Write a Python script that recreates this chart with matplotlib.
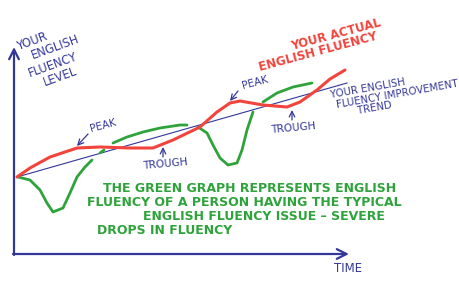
import matplotlib
matplotlib.use("Agg")
import matplotlib.pyplot as plt

# цвета "маркеров"
BLUE = "#34379a"
RED = "#f2443c"
GREEN = "#2fa33b"

# данные в условных единицах: время (t) и уровень владения (f)
red_t = [3, 16, 36, 63, 86, 116, 139, 159, 186, 203, 216, 226, 249, 273, 286, 303, 316, 331]
red_f = [77, 86, 97, 106, 107, 106, 106, 114, 127, 142, 151, 153, 149, 147, 152, 164, 175, 184]

trend_t = [3, 333]
trend_f = [77, 171]

# зеленый график - несколько отдельных штрихов
green_segments = [
    ([4, 16, 26, 33, 39, 49, 56, 63, 71, 78],
     [77, 74, 64, 51, 42, 46, 61, 77, 87, 94]),
    ([86, 90], [101, 104]),
    ([99, 113, 129, 146, 166, 173],
     [111, 117, 122, 126, 129, 129]),
    ([184, 193, 199, 206, 214, 223, 228, 233, 239],
     [127, 121, 109, 96, 89, 91, 104, 124, 142]),
    ([249, 263, 279, 298],
     [152, 161, 167, 171]),
]

y_label = ["YOUR", "ENGLISH", "FLUENCY", "LEVEL"]
red_label = ["YOUR ACTUAL", "ENGLISH FLUENCY"]
trend_label = ["YOUR ENGLISH", "FLUENCY IMPROVEMENT", "TREND"]
green_note = [
    "THE GREEN GRAPH REPRESENTS ENGLISH",
    "FLUENCY OF A PERSON HAVING THE TYPICAL",
    "ENGLISH FLUENCY ISSUE \u2013 SEVERE",
    "DROPS IN FLUENCY",
]

plt.rcParams['font.family'] = ['DejaVu Sans']

fig = plt.figure(figsize=(4.6, 2.85), dpi=100)
ax = fig.add_axes([0, 0, 1, 1])
ax.set_xlim(-14, 446)
ax.set_ylim(-31, 254)
ax.axis('off')


def px(x, y):
    # перевод пиксельных координат картинки в единицы графика
    return x - 14, 254 - y


# оси со стрелками
arrow = dict(arrowstyle='->,head_length=0.7,head_width=0.35', color=BLUE, lw=1.6,
             shrinkA=0, shrinkB=0)
ax.annotate('', xy=(0, 207), xytext=(0, -1), arrowprops=arrow)
ax.annotate('', xy=(335, 0), xytext=(-1, 0), arrowprops=arrow)

# линии
ax.plot(trend_t, trend_f, color=BLUE, lw=0.8)
for seg_t, seg_f in green_segments:
    ax.plot(seg_t, seg_f, color=GREEN, lw=2.0, solid_capstyle='round', solid_joinstyle='round')
ax.plot(red_t, red_f, color=RED, lw=2.2, solid_capstyle='round', solid_joinstyle='round')

# подписи оси Y
for txt, (x, y) in zip(y_label, [(33, 41), (55, 47), (53, 65), (60, 77)]):
    ax.text(*px(x, y), txt, color=BLUE, fontsize=8.3, rotation=20,
            ha='center', va='center')

ax.text(*px(348, 269), "TIME", color=BLUE, fontsize=8.5, ha='center', va='center')

# подпись красной линии
for txt, (x, y) in zip(red_label, [(336, 35), (318, 52)]):
    ax.text(*px(x, y), txt, color=RED, fontsize=8.5, fontweight='bold', rotation=15,
            ha='center', va='center')

# подпись тренда
for txt, (x, y) in zip(trend_label, [(368, 88), (397, 94), (375, 108)]):
    ax.text(*px(x, y), txt, color=BLUE, fontsize=7.3, rotation=10,
            ha='center', va='center')

# пики и впадины
small_arrow = dict(arrowstyle='->,head_length=0.4,head_width=0.2', color=BLUE, lw=0.9,
                   shrinkA=0, shrinkB=0)
ax.text(*px(103, 126), "PEAK", color=BLUE, fontsize=7.5, rotation=15, ha='center', va='center')
ax.annotate('', xy=px(77, 146), xytext=px(88, 134), arrowprops=small_arrow)
ax.text(*px(255, 83), "PEAK", color=BLUE, fontsize=7.5, rotation=15, ha='center', va='center')
ax.annotate('', xy=px(230, 101), xytext=px(238, 91), arrowprops=small_arrow)
ax.text(*px(165, 164), "TROUGH", color=BLUE, fontsize=7.5, rotation=5, ha='center', va='center')
ax.annotate('', xy=px(163, 147), xytext=px(163, 157), arrowprops=small_arrow)
ax.text(*px(293, 128), "TROUGH", color=BLUE, fontsize=7.5, rotation=5, ha='center', va='center')
ax.annotate('', xy=px(292, 110), xytext=px(292, 120), arrowprops=small_arrow)

# зеленый текст
for txt, (x, y) in zip(green_note, [(103, 189), (87, 203), (143, 217), (97, 231)]):
    ax.text(*px(x, y), txt, color=GREEN, fontsize=9, fontweight='bold',
            ha='left', va='center')

fig.savefig("out.png", dpi=100)
